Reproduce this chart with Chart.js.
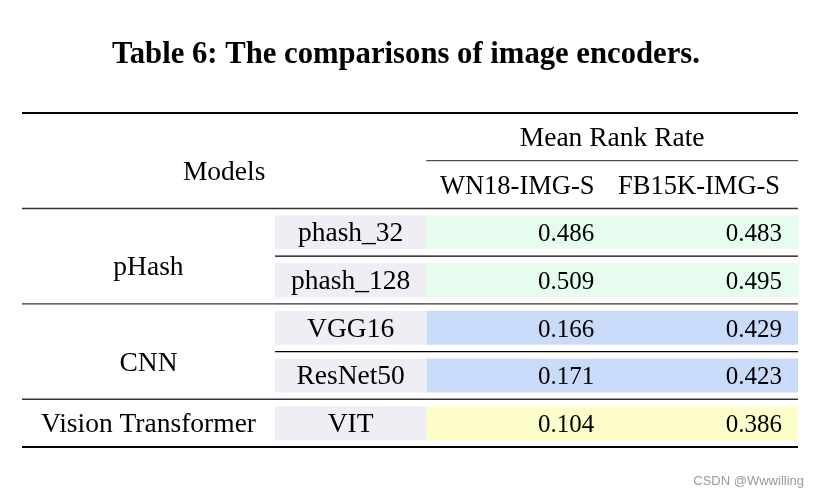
<!DOCTYPE html>
<html>
<head>
<meta charset="utf-8">
<script src="https://cdn.jsdelivr.net/npm/chart.js@4.4.1/dist/chart.umd.min.js"></script>
<style>
  html, body { margin: 0; padding: 0; background: #fff; }
  #wrap { width: 820px; height: 495px; }
</style>
</head>
<body>
<div id="wrap"><canvas id="myChart" width="820" height="495"></canvas></div>
<script>
(function () {
    'use strict';

    // table data
    const title = 'Table 6: The comparisons of image encoders.';
    const metric = 'Mean Rank Rate';
    const headModels = 'Models';
    const columns = ['WN18-IMG-S', 'FB15K-IMG-S'];
    const groups = ['pHash', 'CNN', 'Vision Transformer'];
    const groupSizes = [2, 2, 1];
    const models = ['phash_32', 'phash_128', 'VGG16', 'ResNet50', 'VIT'];
    const wn18 = [0.486, 0.509, 0.166, 0.171, 0.104];
    const fb15k = [0.483, 0.495, 0.429, 0.423, 0.386];
    const groupColors = ['#e6fcef', '#cadaf9', '#fefecb'];
    const watermark = 'CSDN @Wwwilling';

    // column edges, in % of the table width (layout only)
    const colEdges = [0, 32.6, 52.1, 75.8, 100];
    const HEAD_ROWS = 2;
    const serif = "'Liberation Serif', 'Times New Roman', serif";

    // which group each model row belongs to
    const rowGroup = [];
    groupSizes.forEach(function (n, g) {
        for (let k = 0; k < n; k++) rowGroup.push(g);
    });

    const labels = ['head1', 'head2'].concat(models);
    const nameCells = labels.map(function (l, i) {
        return i < HEAD_ROWS ? null : [colEdges[1], colEdges[2]];
    });
    const valueCells = labels.map(function (l, i) {
        return i < HEAD_ROWS ? null : [colEdges[2], colEdges[4]];
    });
    const valueColors = labels.map(function (l, i) {
        return i < HEAD_ROWS ? 'rgba(0,0,0,0)' : groupColors[rowGroup[i - HEAD_ROWS]];
    });

    const tablePlugin = {
        id: 'tableText',
        afterDatasetsDraw: function (chart) {
            const ctx = chart.ctx;
            const xs = chart.scales.x;
            const ys = chart.scales.y;
            const area = chart.chartArea;
            const band = (area.bottom - area.top) / labels.length;
            const X = function (v) { return xs.getPixelForValue(v); };
            const rowY = function (i) { return ys.getPixelForValue(i); };
            const edgeY = function (i) { return area.top + band * i; };

            function rule(y, x0, x1, w, color) {
                ctx.save();
                ctx.strokeStyle = color;
                ctx.lineWidth = w;
                ctx.beginPath();
                ctx.moveTo(X(x0), y);
                ctx.lineTo(X(x1), y);
                ctx.stroke();
                ctx.restore();
            }
            function text(str, x, y, align, font, color) {
                ctx.save();
                ctx.font = font;
                ctx.fillStyle = color || '#000';
                ctx.textAlign = align;
                ctx.textBaseline = 'alphabetic';
                ctx.fillText(str, x, y);
                ctx.restore();
            }

            // rules
            rule(edgeY(0), colEdges[0], colEdges[4], 2, '#000');
            rule(edgeY(1), colEdges[2], colEdges[4], 1, '#222');
            rule(edgeY(2), colEdges[0], colEdges[4], 1.4, '#333');
            let r = HEAD_ROWS;
            groupSizes.forEach(function (n, g) {
                for (let k = 1; k < n; k++) {
                    rule(edgeY(r + k), colEdges[1], colEdges[4], 1.2, '#000');
                }
                r += n;
                if (g < groupSizes.length - 1) {
                    rule(edgeY(r), colEdges[0], colEdges[4], 1.4, '#333');
                }
            });
            rule(edgeY(labels.length), colEdges[0], colEdges[4], 2, '#000');

            const base = 9;
            const lab = '27.5px ' + serif;
            const hdr = '26.5px ' + serif;
            const num = '25px ' + serif;

            // header
            text(metric, (X(colEdges[2]) + X(colEdges[4])) / 2, rowY(0) + base, 'center', lab);
            text(headModels, (X(colEdges[0]) + X(colEdges[2])) / 2,
                 (rowY(0) + rowY(1)) / 2 + band * 0.21 + base, 'center', lab);
            text(columns[0], (X(colEdges[2]) + X(colEdges[3])) / 2 - 1, rowY(1) + base, 'center', hdr);
            text(columns[1], (X(colEdges[3]) + X(colEdges[4])) / 2 - 5, rowY(1) + base, 'center', hdr);

            // groups
            r = HEAD_ROWS;
            groupSizes.forEach(function (n, g) {
                const yMid = (rowY(r) + rowY(r + n - 1)) / 2 + (n > 1 ? band * 0.21 : 0);
                text(groups[g], (X(colEdges[0]) + X(colEdges[1])) / 2, yMid + base, 'center', lab);
                r += n;
            });

            // model names and values
            models.forEach(function (m, i) {
                const y = rowY(i + HEAD_ROWS) + base;
                text(m, (X(colEdges[1]) + X(colEdges[2])) / 2, y, 'center', lab);
                text(wn18[i].toFixed(3), X(colEdges[3]) - 16, y, 'right', num);
                text(fb15k[i].toFixed(3), X(colEdges[4]) - 16, y, 'right', num);
            });

            // title and watermark
            text(title, (area.left + area.right) / 2 - 4, 62.5, 'center', 'bold 30.7px ' + serif);
            text(watermark, 804, 485, 'right', "13px 'Liberation Sans', Arial, sans-serif", '#9a9a9a');
        }
    };

    const ctx = document.getElementById('myChart').getContext('2d');
    const chart = new Chart(ctx, {
        type: 'bar',
        data: {
            labels: labels,
            datasets: [{
                label: 'model',
                data: nameCells,
                backgroundColor: '#efeef4',
                borderWidth: 0
            }, {
                label: 'values',
                data: valueCells,
                backgroundColor: valueColors,
                borderWidth: 0
            }]
        },
        options: {
            indexAxis: 'y',
            responsive: false,
            devicePixelRatio: 1,
            animation: false,
            grouped: false,
            barPercentage: 0.713,
            categoryPercentage: 1,
            layout: { padding: { left: 22, right: 22, top: 113, bottom: 48 } },
            scales: {
                x: { type: 'linear', min: 0, max: 100, display: false },
                y: { type: 'category', display: false, offset: true }
            },
            plugins: {
                legend: { display: false },
                tooltip: { enabled: false }
            }
        },
        plugins: [tablePlugin]
    });
})();
</script>
</body>
</html>
